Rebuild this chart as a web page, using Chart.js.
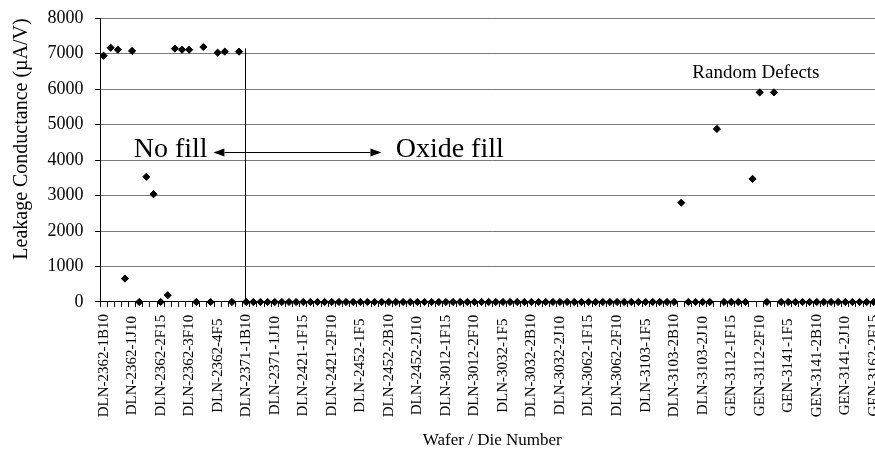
<!DOCTYPE html>
<html>
<head>
<meta charset="utf-8">
<title>Leakage Conductance by Wafer / Die</title>
<script src="https://cdn.jsdelivr.net/npm/chart.js@4.4.1/dist/chart.umd.min.js"></script>
<style>
  html, body { margin: 0; padding: 0; background: #fff; overflow: hidden; }
  canvas { display: block; width: 890px; height: 452px; }
</style>
</head>
<body>
<canvas id="chart" width="890" height="452"></canvas>
<script>
// Die identifiers, in test order
const dieLabels = [
  'DLN-2362-1B10','DLN-2362-1F10','DLN-2362-1F15','DLN-2362-1F5','DLN-2362-1J10',
  'DLN-2362-2B10','DLN-2362-2B15','DLN-2362-2F10','DLN-2362-2F15','DLN-2362-2F5',
  'DLN-2362-2J10','DLN-2362-3B10','DLN-2362-3F10','DLN-2362-3F15','DLN-2362-3F5',
  'DLN-2362-4F10','DLN-2362-4F5','DLN-2362-4J10','DLN-2362-5F10','DLN-2362-5F5',
  'DLN-2371-1B10','DLN-2371-1F10','DLN-2371-1F15','DLN-2371-1F5','DLN-2371-1J10',
  'DLN-2371-2B10','DLN-2421-1B10','DLN-2421-1F10','DLN-2421-1F15','DLN-2421-1F5',
  'DLN-2421-1J10','DLN-2421-2B10','DLN-2421-2F10','DLN-2452-1B10','DLN-2452-1F10',
  'DLN-2452-1F15','DLN-2452-1F5','DLN-2452-1J10','DLN-2452-1J15','DLN-2452-1J5',
  'DLN-2452-2B10','DLN-2452-2F10','DLN-2452-2F15','DLN-2452-2F5','DLN-2452-2J10',
  'DLN-3012-1B10','DLN-3012-1B5','DLN-3012-1F10','DLN-3012-1F15','DLN-3012-1F5',
  'DLN-3012-1J10','DLN-3012-2B10','DLN-3012-2F10','DLN-3012-2F15','DLN-3012-2J10',
  'DLN-3032-1B10','DLN-3032-1F5','DLN-3032-1J10','DLN-3032-1J15','DLN-3032-2B5',
  'DLN-3032-2B10','DLN-3032-2F10','DLN-3032-2F15','DLN-3032-2F5','DLN-3032-2J10',
  'DLN-3032-3F10','DLN-3062-1B10','DLN-3062-1F10','DLN-3062-1F15','DLN-3062-1F5',
  'DLN-3062-1J10','DLN-3062-2B10','DLN-3062-2F10','DLN-3062-2F15','DLN-3062-2J10',
  'DLN-3103-1F10','DLN-3103-1F5','DLN-3103-1J10','DLN-3103-1J15','DLN-3103-2B5',
  'DLN-3103-2B10','DLN-3103-2F10','DLN-3103-2F15','DLN-3103-2F5','DLN-3103-2J10',
  'DLN-3103-3F10','GEN-3112-1B10','GEN-3112-1F10','GEN-3112-1F15','GEN-3112-1F5',
  'GEN-3112-1J10','GEN-3112-2B10','GEN-3112-2F10','GEN-3112-2F15','GEN-3112-2J10',
  'GEN-3141-1F10','GEN-3141-1F5','GEN-3141-1J10','GEN-3141-1J15','GEN-3141-2B5',
  'GEN-3141-2B10','GEN-3141-2F10','GEN-3141-2F15','GEN-3141-2F5','GEN-3141-2J10',
  'GEN-3162-1F10','GEN-3162-1J10','GEN-3162-2F10','GEN-3162-2F15','GEN-3162-2J10'
];

// Leakage conductance per die (µA/V)
const leakage = [
  6945, 7170, 7115,  660, 7080,    0, 3530, 3040,    0,  190,
  7145, 7115, 7115,    0, 7190,    0, 7030, 7060,    0, 7060,
     0,    0,    0,    0,    0,    0,    0,    0,    0,    0,
     0,    0,    0,    0,    0,    0,    0,    0,    0,    0,
     0,    0,    0,    0,    0,    0,    0,    0,    0,    0,
     0,    0,    0,    0,    0,    0,    0,    0,    0,    0,
     0,    0,    0,    0,    0,    0,    0,    0,    0,    0,
     0,    0,    0,    0,    0,    0,    0,    0,    0,    0,
     0, 2800,    0,    0,    0,    0, 4880,    0,    0,    0,
     0, 3470, 5910,    0, 5910,    0,    0,    0,    0,    0,
     0,    0,    0,    0,    0,    0,    0,    0,    0,    0
];

// Value-axis ticks
const yTicks = [0, 1000, 2000, 3000, 4000, 5000, 6000, 7000, 8000];

// Every fourth die is labelled on the category axis
const labelStep = 4;

const SERIF = '"Liberation Serif", "Times New Roman", serif';
Chart.defaults.font.family = SERIF;
Chart.defaults.color = '#000';

// Category labels, rotated and centred in their band
const dieLabelPlugin = {
  id: 'dieLabels',
  afterDraw(chart) {
    const xs = chart.scales.x;
    const ctx = chart.ctx;
    ctx.save();
    ctx.font = '15px ' + SERIF;
    ctx.fillStyle = '#000';
    ctx.textAlign = 'center';
    ctx.textBaseline = 'middle';
    let widest = 0;
    dieLabels.forEach((l, i) => {
      if (i % labelStep === 0) widest = Math.max(widest, ctx.measureText(l).width);
    });
    const cy = xs.top + 5 + 7 + widest / 2;
    dieLabels.forEach((l, i) => {
      if (i % labelStep !== 0) return;
      const x = xs.getPixelForValue(i);
      ctx.save();
      ctx.translate(x, cy);
      ctx.rotate(-Math.PI / 2);
      ctx.fillText(l, 0, 0);
      ctx.restore();
    });
    ctx.restore();
  }
};

// Fill-type divider, arrow and notes
const notesPlugin = {
  id: 'notes',
  afterDraw(chart) {
    const xs = chart.scales.x, ys = chart.scales.y;
    const ctx = chart.ctx;
    ctx.save();
    ctx.strokeStyle = '#000';
    ctx.fillStyle = '#000';
    ctx.lineWidth = 1;

    // divider between no-fill and oxide-fill wafers
    const dx = Math.round(xs.getPixelForValue(19.9)) + 0.5;
    ctx.beginPath();
    ctx.moveTo(dx, ys.getPixelForValue(7150));
    ctx.lineTo(dx, ys.getPixelForValue(0));
    ctx.stroke();

    // double-headed arrow
    const ay = Math.round(ys.getPixelForValue(4235)) + 0.5;
    const ax1 = xs.getPixelForValue(15.4);
    const ax2 = xs.getPixelForValue(38.96);
    const head = 11, half = 4;
    ctx.beginPath();
    ctx.moveTo(ax1 + head, ay);
    ctx.lineTo(ax2 - head, ay);
    ctx.stroke();
    ctx.beginPath();
    ctx.moveTo(ax1, ay);
    ctx.lineTo(ax1 + head, ay - half);
    ctx.lineTo(ax1 + head, ay + half);
    ctx.closePath();
    ctx.fill();
    ctx.beginPath();
    ctx.moveTo(ax2, ay);
    ctx.lineTo(ax2 - head, ay - half);
    ctx.lineTo(ax2 - head, ay + half);
    ctx.closePath();
    ctx.fill();

    // labels
    ctx.textBaseline = 'middle';
    ctx.font = '28px ' + SERIF;
    ctx.textAlign = 'right';
    ctx.fillText('No fill', xs.getPixelForValue(14.58), ys.getPixelForValue(4290));
    ctx.textAlign = 'left';
    ctx.fillText('Oxide fill', xs.getPixelForValue(40.96), ys.getPixelForValue(4290));

    ctx.font = '19px ' + SERIF;
    ctx.textAlign = 'center';
    ctx.fillText('Random Defects', xs.getPixelForValue(91.47), ys.getPixelForValue(6457));
    ctx.restore();
  }
};

new Chart(document.getElementById('chart'), {
  type: 'line',
  data: {
    labels: dieLabels,
    datasets: [{
      label: 'Leakage Conductance',
      data: leakage,
      showLine: false,
      pointStyle: 'rectRot',
      pointRadius: 3.6,
      pointHoverRadius: 3.6,
      pointBorderWidth: 1,
      pointBackgroundColor: '#000',
      pointBorderColor: '#000',
      clip: false
    }]
  },
  options: {
    responsive: false,
    animation: false,
    events: [],
    layout: { padding: { left: 0, top: 18.3, right: 5.5, bottom: 0 } },
    plugins: {
      legend: { display: false },
      tooltip: { enabled: false }
    },
    scales: {
      x: {
        type: 'category',
        offset: true,
        afterFit: (s) => { s.paddingLeft = 0; s.paddingRight = 0; },
        grid: {
          offset: true,
          drawOnChartArea: false,
          color: '#000',
          tickLength: 5
        },
        border: { color: '#000', width: 1 },
        ticks: {
          autoSkip: false,
          minRotation: 90,
          maxRotation: 90,
          padding: 7,
          font: { size: 15 },
          color: 'rgba(0,0,0,0)',
          callback: (v, i) => (i % labelStep === 0 ? dieLabels[i] : '')
        },
        title: {
          display: true,
          text: 'Wafer / Die Number',
          font: { size: 17 },
          color: '#000',
          padding: { top: 6.3, bottom: 1 }
        }
      },
      y: {
        min: yTicks[0],
        max: yTicks[yTicks.length - 1],
        afterBuildTicks: (scale) => { scale.ticks = yTicks.map(v => ({ value: v })); },
        afterFit: (s) => { s.width = 100; s.paddingTop = 0; s.paddingBottom = 0; },
        grid: {
          color: (c) => (c.tick && c.tick.value === 0 ? '#000' : '#7a7a7a'),
          tickColor: '#000',
          tickLength: 5,
          lineWidth: 1
        },
        border: { color: '#000', width: 1 },
        ticks: {
          font: { size: 18 },
          color: '#000',
          padding: 11.5,
          callback: (v) => String(v)
        },
        title: {
          display: true,
          text: 'Leakage Conductance (µA/V)',
          align: 'end',
          font: { size: 20 },
          color: '#000',
          padding: { top: 9.7, bottom: 13 }
        }
      }
    }
  },
  plugins: [dieLabelPlugin, notesPlugin]
});
</script>
</body>
</html>
